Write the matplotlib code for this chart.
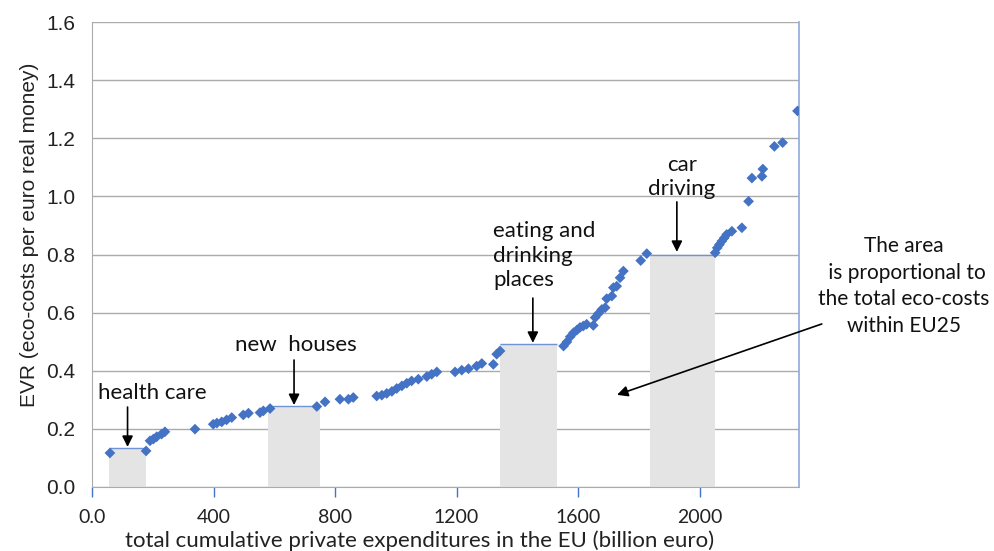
import matplotlib
matplotlib.use("Agg")
import matplotlib.pyplot as plt

# --- data ---
x_vals = [59, 178, 191, 202, 213, 229, 240, 339, 399, 411, 427, 443, 460, 498, 515,
          553, 564, 586, 740, 767, 816, 844, 860, 937, 954, 970, 987, 1003, 1020,
          1036, 1052, 1074, 1102, 1118, 1135, 1195, 1217, 1239, 1266, 1283, 1321,
          1332, 1343, 1552, 1563, 1574, 1585, 1596, 1606, 1617, 1628, 1650, 1656,
          1667, 1678, 1689, 1694, 1711, 1716, 1727, 1738, 1749, 1806, 1826, 2051,
          2058, 2065, 2073, 2081, 2089, 2106, 2139, 2161, 2172, 2205, 2208, 2246,
          2273, 2322]
y_vals = [0.117, 0.124, 0.159, 0.165, 0.173, 0.182, 0.190, 0.199, 0.216, 0.220, 0.224,
          0.231, 0.239, 0.248, 0.254, 0.256, 0.262, 0.270, 0.277, 0.293, 0.302, 0.302,
          0.308, 0.313, 0.316, 0.322, 0.329, 0.339, 0.348, 0.357, 0.365, 0.371, 0.380,
          0.388, 0.396, 0.396, 0.402, 0.407, 0.416, 0.425, 0.422, 0.457, 0.468, 0.485,
          0.499, 0.517, 0.531, 0.540, 0.549, 0.554, 0.560, 0.556, 0.583, 0.597, 0.611,
          0.617, 0.648, 0.657, 0.686, 0.691, 0.720, 0.743, 0.779, 0.803, 0.806, 0.823,
          0.834, 0.846, 0.857, 0.869, 0.880, 0.892, 0.983, 1.063, 1.069, 1.094, 1.172,
          1.185, 1.294]

bar_labels = ["health care", "new  houses", "eating and\ndrinking\nplaces", "car\ndriving"]
bar_left = [56, 580, 1343, 1835]
bar_right = [178, 750, 1532, 2051]
bar_height = [0.134, 0.279, 0.492, 0.800]

x_ticks = [0, 400, 800, 1200, 1600, 2000]
x_ticklabels = ["0.0", "400", "800", "1200", "1600", "2000"]
y_ticks = [0.0, 0.2, 0.4, 0.6, 0.8, 1.0, 1.2, 1.4, 1.6]

BLUE = "#4472C4"
GRID = "#ababab"
ANN_FONT = ["Lato", "DejaVu Sans"]
AX_FONT = ["Liberation Sans", "DejaVu Sans"]
TXT = "#111111"
FS = 16

fig = plt.figure(figsize=(9.94, 5.51), dpi=100)
ax = fig.add_axes([92 / 994, 1 - 487 / 551, 707 / 994, 465 / 551])

# bars
widths = [r - l for l, r in zip(bar_left, bar_right)]
ax.bar(bar_left, bar_height, width=widths, align="edge", color="#e4e4e4",
       edgecolor="none", zorder=1)
ax.hlines(bar_height, bar_left, bar_right, colors="#6f93d4", linewidth=1.0, zorder=2)

# scatter
ax.scatter(x_vals, y_vals, marker="D", s=30, color=BLUE, edgecolors="none", zorder=4)

ax.set_xlim(0, 2327)
ax.set_ylim(0, 1.6)
ax.set_yticks(y_ticks)
ax.set_yticklabels([f"{v:.1f}" for v in y_ticks], fontfamily=AX_FONT, fontsize=15,
                   color="#222222")
ax.set_xticks(x_ticks)
ax.set_xticklabels(x_ticklabels, fontfamily=ANN_FONT, fontsize=14, color="#222222")
ax.tick_params(axis="y", length=0, pad=12)
ax.tick_params(axis="x", length=7, width=1, color=BLUE, direction="out", pad=9)
ax.grid(axis="y", color=GRID, linewidth=1.0, zorder=0)
ax.set_axisbelow(True)

ax.spines["top"].set_visible(False)
ax.spines["left"].set_color(GRID)
ax.spines["bottom"].set_color(GRID)
ax.spines["right"].set_color("#8eaadb")
ax.spines["right"].set_linewidth(1.2)

ax.set_ylabel("EVR (eco-costs per euro real money)", fontfamily=AX_FONT, fontsize=15,
              color="#222222")
ax.yaxis.set_label_coords(-(92 - 30) / 707, (487 - 235) / 465)
ax.set_xlabel("total cumulative private expenditures in the EU (billion euro)",
              fontfamily=ANN_FONT, fontsize=16, color="#222222")
ax.xaxis.set_label_coords((420 - 92) / 707, -(541 - 487) / 465)
ax.xaxis.label.set_va("center")
ax.yaxis.label.set_va("center")

arrow = dict(arrowstyle="-|>", color="black", lw=1.2, mutation_scale=16,
             shrinkA=0, shrinkB=0)

# annotation arrows above bars
ax.annotate("", xy=(117, 0.138), xytext=(117, 0.275), arrowprops=arrow, zorder=5)
ax.text(197, 0.323, bar_labels[0], ha="center", va="center", fontfamily=ANN_FONT,
        fontsize=FS, color=TXT)

ax.annotate("", xy=(665, 0.282), xytext=(665, 0.437), arrowprops=arrow, zorder=5)
ax.text(671, 0.489, bar_labels[1], ha="center", va="center", fontfamily=ANN_FONT,
        fontsize=FS, color=TXT)

ax.annotate("", xy=(1451, 0.496), xytext=(1451, 0.650), arrowprops=arrow, zorder=5)
ax.text(1320, 0.795, bar_labels[2], ha="left", va="center", fontfamily=ANN_FONT,
        fontsize=FS, color=TXT, linespacing=1.28)

ax.annotate("", xy=(1925, 0.809), xytext=(1925, 0.981), arrowprops=arrow, zorder=5)
ax.text(1942, 1.068, bar_labels[3], ha="center", va="center", fontfamily=ANN_FONT,
        fontsize=FS, color=TXT, linespacing=1.25)

# big arrow
ax.annotate("", xy=(1728, 0.317), xytext=(2402, 0.561), arrowprops=arrow,
            annotation_clip=False, zorder=5)
fig.text(904 / 994, 1 - 286 / 551,
         "The area\n is proportional to\nthe total eco-costs\nwithin EU25",
         ha="center", va="center", fontfamily=ANN_FONT, fontsize=15,
         color=TXT, linespacing=1.42)

fig.savefig("out.png", dpi=100)
